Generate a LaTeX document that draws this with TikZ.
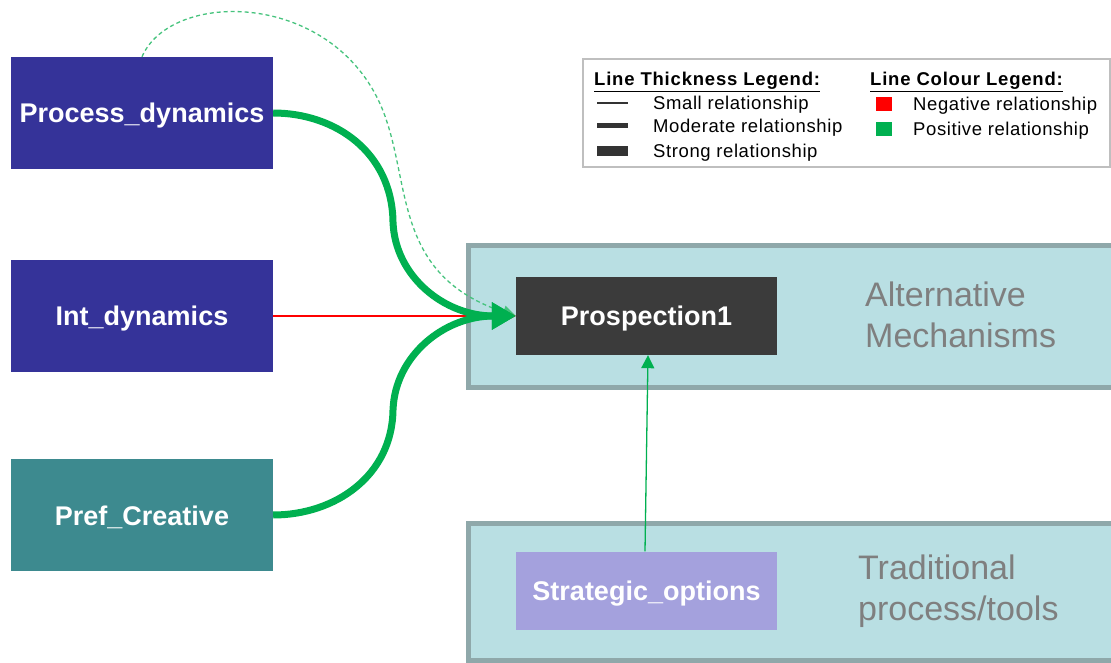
\documentclass[tikz,border=0pt]{standalone}
\usepackage{fontspec}
\setmainfont{Liberation Sans}
\usetikzlibrary{arrows.meta}

\definecolor{driver}{RGB}{53,51,153}
\definecolor{prefteal}{RGB}{61,138,143}
\definecolor{darkbox}{RGB}{59,59,59}
\definecolor{lavender}{RGB}{164,161,221}
\definecolor{panelfill}{RGB}{185,223,227}
\definecolor{panelline}{RGB}{143,168,170}
\definecolor{paneltext}{RGB}{127,127,127}
\definecolor{legendline}{RGB}{191,191,191}
\definecolor{posgreen}{RGB}{0,176,80}
\definecolor{dashgreen}{RGB}{70,195,125}
\definecolor{neggred}{RGB}{255,0,0}

\begin{document}
\begin{tikzpicture}[x=1pt,y=1pt,
    factor/.style={minimum width=262pt,minimum height=112pt,inner sep=0pt,
        text height=20pt,text depth=0pt,
        text=white,font=\fontsize{27}{32}\selectfont\bfseries},
    outcome/.style={factor,minimum width=261pt,minimum height=78pt},
    panel/.style={draw=panelline,line width=5pt,fill=panelfill},
    paneltxt/.style={anchor=base west,align=left,inner sep=0pt,text=paneltext,
        font=\fontsize{34}{41}\selectfont},
    legendtxt/.style={anchor=base west,inner sep=0pt,
        font=\fontsize{18.5}{22}\selectfont\addfontfeature{LetterSpace=3.2}},
    legendhead/.style={legendtxt,
        font=\fontsize{18.5}{22}\selectfont\bfseries\addfontfeature{LetterSpace=4.3}},
    strong/.style={line width=7pt,draw=posgreen,-{Triangle[length=24pt,width=26pt]}},
    weak/.style={line width=1.3pt,-{Triangle[length=13pt,width=13pt]}}]

    \clip (0,0) rectangle (1111,662);
    \useasboundingbox (0,0) rectangle (1111,662);

    % Panels
    \draw[panel] (468.5,416.5) rectangle (1130,274);
    \draw[panel] (468.5,138.5) rectangle (1130,2);
    \node[paneltxt] (altlabel) at (865,314) {Alternative\\Mechanisms};
    \node[paneltxt] (tradlabel) at (858,42) {Traditional\\process/tools};

    % Factors
    \node[factor,fill=driver] (procdyn) at (142,549) {Process\_dynamics};
    \node[factor,fill=driver] (intdyn) at (142,346) {Int\_dynamics};
    \node[factor,fill=prefteal] (prefcre) at (142,147) {Pref\_Creative};
    \node[outcome,fill=darkbox] (prosp) at (646.5,346) {Prospection1};
    \node[outcome,fill=lavender] (stratopt) at (646.5,71.5) {Strategic\_options};

    % Relationships
    \draw[weak,dashgreen,dash pattern=on 4pt off 3pt]
        (procdyn.north) .. controls (172,675) and (345,672) .. (387,540)
        .. controls (410,470) and (398,385) .. (prosp.west);
    \draw[weak,neggred] (intdyn.east) -- (prosp.west);
    \draw[strong] (procdyn.east) .. controls (335,549) and (392,510) .. (393,440)
        .. controls (395,385) and (445,346) .. (prosp.west);
    \draw[strong] (prefcre.east) .. controls (335,147) and (392,186) .. (393,252)
        .. controls (395,307) and (445,346) .. (prosp.west);
    \draw[weak,posgreen] ([xshift=-1.5pt]stratopt.north) -- ([xshift=1.5pt]prosp.south);

    % Legend
    \node[draw=legendline,line width=2pt,minimum width=527pt,minimum height=108pt,
        anchor=north west] (legend) at (582,604) {};
    \node[legendhead] (thicktitle) at (594,576) {\underline{Line Thickness Legend:}};
    \node[legendhead] (colourtitle) at (870,576) {\underline{Line Colour Legend:}};
    \foreach \w/\yy/\txt in {1.5/559/Small, 5/536/Moderate, 10/511/Strong} {
        \draw[line width=\w pt,black!80] (597,\yy) -- (628,\yy);
        \node[legendtxt] at (653,\yy-6.5) {\txt\ relationship};
    }
    \fill[neggred] (876,551) rectangle (892,565);
    \fill[posgreen] (876,526) rectangle (892,540);
    \node[legendtxt] (neglabel) at (913,551.5) {Negative relationship};
    \node[legendtxt] (poslabel) at (913,526.5) {Positive relationship};
\end{tikzpicture}
\end{document}
